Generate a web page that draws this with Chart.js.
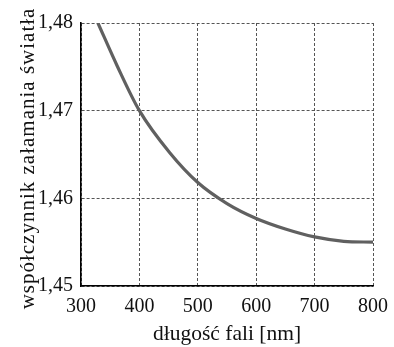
<!DOCTYPE html>
<html>
<head>
<meta charset="utf-8">
<script src="https://cdn.jsdelivr.net/npm/chart.js@4.4.0/dist/chart.umd.min.js"></script>
<style>
html, body { margin: 0; padding: 0; background: #ffffff; }
#wrap { width: 394px; height: 347px; }
</style>
</head>
<body>
<div id="wrap"><canvas id="chart" width="394" height="347"></canvas></div>
<script>
// wavelength [nm] and refractive index
const wavelengths = [329, 362, 400, 452, 500, 550, 600, 650, 700, 750, 800]
const indices = [1.4800, 1.4751, 1.4700, 1.4652, 1.4618, 1.4594, 1.4577, 1.4565, 1.4556, 1.4551, 1.4550]

const xTicks = [300, 400, 500, 600, 700, 800]
const yTicks = [1.45, 1.46, 1.47, 1.48]

const xTitle = "długość fali [nm]"
const yTitle = "współczynnik załamania światła"

const points = wavelengths.map((w, i) => ({ x: w, y: indices[i] }))

const serif = "'Liberation Serif', 'DejaVu Serif', serif"

const gridStyle = {
  color: "#555",
  lineWidth: 1,
  drawTicks: false
}

const chart = new Chart(document.getElementById("chart"), {
  type: "line",
  data: {
    datasets: [{
      data: points,
      borderColor: "#606060",
      borderWidth: 3.2,
      pointRadius: 0,
      cubicInterpolationMode: "monotone",
      fill: false
    }]
  },
  options: {
    responsive: false,
    animation: false,
    layout: { padding: { top: 23, right: 21, left: 0, bottom: 0 } },
    plugins: { legend: { display: false }, tooltip: { enabled: false } },
    scales: {
      x: {
        type: "linear",
        min: 300,
        max: 800,
        afterBuildTicks: s => { s.ticks = xTicks.map(v => ({ value: v })) },
        afterFit: s => {
          s.height = 61
          s.paddingLeft = 15
          s.paddingRight = 15
        },
        grid: gridStyle,
        // dash goes to the grid lines, the axis line itself stays solid
        border: { display: true, color: "#000", width: 1.6, dash: [3, 2] },
        ticks: {
          color: "#111",
          padding: 9,
          font: { family: serif, size: 20 },
          callback: v => String(v)
        },
        title: {
          display: true,
          text: xTitle,
          color: "#111",
          padding: { top: 0, bottom: 0 },
          font: { family: serif, size: 21.5 }
        }
      },
      y: {
        type: "linear",
        min: 1.45,
        max: 1.48,
        afterBuildTicks: s => { s.ticks = yTicks.map(v => ({ value: v })) },
        afterFit: s => { s.width = 81 },
        grid: gridStyle,
        border: { display: true, color: "#000", width: 1.6, dash: [3, 2] },
        ticks: {
          color: "#111",
          padding: 8,
          font: { family: serif, size: 20 },
          callback: v => v.toFixed(2).replace(".", ",")
        },
        title: {
          display: true,
          text: yTitle,
          color: "#111",
          padding: { top: 16, bottom: 0 },
          font: { family: serif, size: 21 }
        }
      }
    }
  }
})

// the printed y title is spread wider than the font gives, and sits a bit lower
const ys = chart.scales.y
const drawTitle = ys.drawTitle.bind(ys)
ys.drawTitle = function(){
  this.ctx.save()
  this.ctx.translate(0, 4)
  this.ctx.letterSpacing = "1px"
  drawTitle()
  this.ctx.restore()
}
chart.draw()
</script>
</body>
</html>
